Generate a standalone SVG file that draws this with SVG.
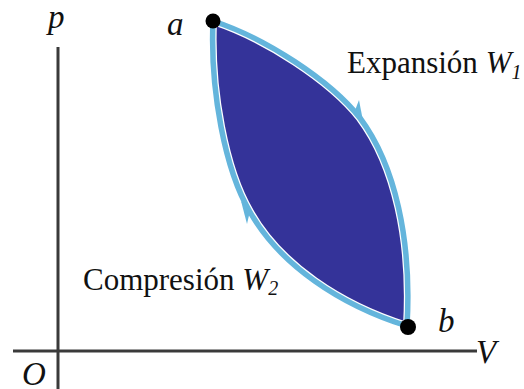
<svg xmlns="http://www.w3.org/2000/svg" width="524" height="389" viewBox="0 0 524 389">
<style>
.axis{stroke:#3a3a3a;stroke-width:3;fill:none}
.lbl{font-family:'Liberation Serif','DejaVu Serif','Times New Roman',serif;fill:#111}
.it{font-style:italic}
.path{stroke:#64b5dc;stroke-width:5.5;fill:none;stroke-linecap:round}
.gap{stroke:#ffffff;stroke-width:8;fill:none}
.barb{fill:#64b5dc}
.dot{fill:#000}
</style>
<rect width="524" height="389" fill="#ffffff"/>
<g id="axes">
<line class="axis" x1="58" y1="47" x2="58" y2="389"/>
<line class="axis" x1="13" y1="351" x2="477" y2="351"/>
<text class="lbl it" font-family="Liberation Serif, DejaVu Serif, serif" x="48" y="28" font-size="33">p</text>
<text class="lbl it" font-family="Liberation Serif, DejaVu Serif, serif" x="476" y="363" font-size="33">V</text>
<text class="lbl it" font-family="Liberation Serif, DejaVu Serif, serif" x="22" y="385" font-size="33">O</text>
</g>
<g id="work-area">
<path d="M213,21 C265,38 330,80 360,118 C395,165 412,240 407,326 C340,305 280,265 250,212 C225,170 210,90 213,21 Z" fill="#343399"/>
</g>
<g id="connectors">
<path class="gap" d="M213,21 C265,38 330,80 360,118 C395,165 412,240 407,326"/>
<path class="gap" d="M407,326 C340,305 280,265 250,212 C225,170 210,90 213,21"/>
<g id="expansion">
<path class="path" d="M213,21 C265,38 330,80 360,118 C395,165 412,240 407,326"/>
<polygon class="barb" points="359,100 363,121 354,113"/>
</g>
<g id="compression">
<path class="path" d="M407,326 C340,305 280,265 250,212 C225,170 210,90 213,21"/>
<polygon class="barb" points="241,201 250,211 247,224"/>
</g>
</g>
<g id="node-a">
<circle class="dot" cx="213" cy="21" r="7.5"/>
<text class="lbl it" font-family="Liberation Serif, DejaVu Serif, serif" x="167" y="35" font-size="33">a</text>
</g>
<g id="node-b">
<circle class="dot" cx="408" cy="327" r="8"/>
<text class="lbl it" font-family="Liberation Serif, DejaVu Serif, serif" x="438" y="332" font-size="33">b</text>
</g>
<g id="label-expansion">
<text class="lbl" font-family="Liberation Serif, DejaVu Serif, serif" x="347" y="73" font-size="31">Expansión <tspan class="it">W</tspan><tspan class="it" font-size="20" dy="6">1</tspan></text>
</g>
<g id="label-compression">
<text class="lbl" font-family="Liberation Serif, DejaVu Serif, serif" x="83" y="290" font-size="31">Compresión <tspan class="it">W</tspan><tspan class="it" font-size="20" dy="5">2</tspan></text>
</g>
</svg>
